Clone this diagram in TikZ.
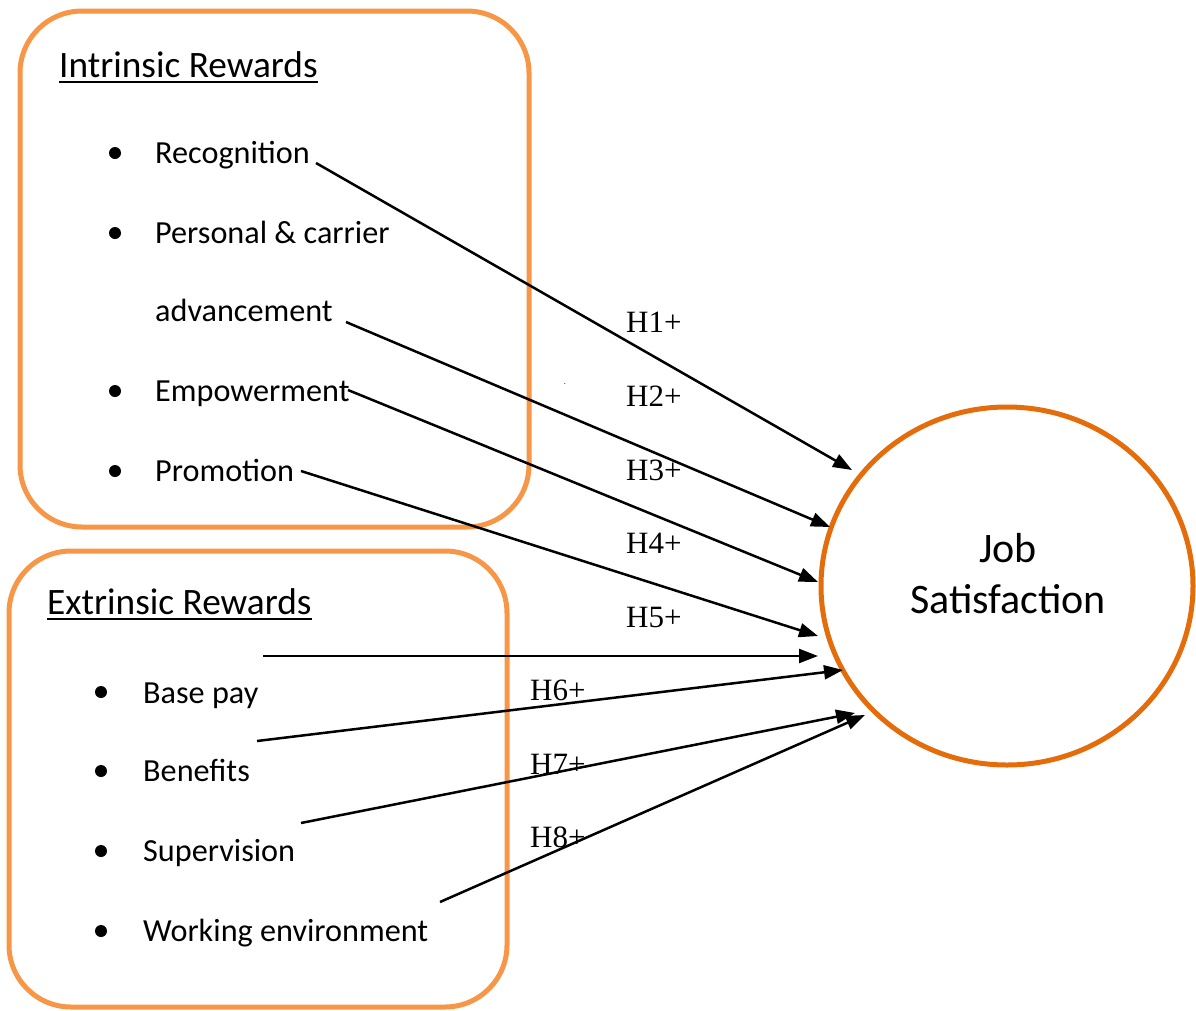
\documentclass[tikz,border=0pt]{standalone}
\usepackage{fontspec}
\setmainfont{Carlito}
\newfontfamily\hypfont{Liberation Serif}
\usetikzlibrary{arrows.meta,shapes.geometric}
\definecolor{boxorange}{HTML}{F79646}
\definecolor{ringorange}{HTML}{E46C0A}
\begin{document}
\begin{tikzpicture}[x=1pt,y=-1pt,
  frame/.style={draw=boxorange,line width=5pt,rounded corners=62pt},
  heading/.style={anchor=base west,inner sep=0pt,font=\fontsize{37.3}{44}\selectfont},
  item/.style={anchor=base west,inner sep=0pt,font=\fontsize{32.2}{38}\selectfont},
  dotmark/.style={circle,fill=black,inner sep=0pt,minimum size=12pt},
  hyp/.style={anchor=base west,inner sep=0pt,font=\hypfont\fontsize{31}{36}\selectfont},
  link/.style={draw=black,line width=2.5pt,-{Triangle[length=19pt,width=14pt]}},
  rule/.style={line width=2.5pt}]
\useasboundingbox (0,0) rectangle (1196,1010);

% group frames
\draw[frame] (20,11) rectangle (529,527);
\draw[frame] (9,551) rectangle (507,1007);

% outcome
\node[draw=ringorange,line width=5pt,ellipse,minimum width=372pt,minimum height=358pt,inner sep=0pt] (js) at (1007,586) {};
\node[align=center,inner sep=0pt,font=\fontsize{42}{51}\selectfont] (jst) at (1008,574) {Job\\Satisfaction};

% intrinsic group
\node[heading] (h1) at (59,77) {Intrinsic Rewards};
\draw[rule] ([yshift=-5pt]h1.base west) -- ([yshift=-5pt]h1.base east);
\node[dotmark] (b1) at (115,153) {};
\node[dotmark] (b2) at (115,233) {};
\node[dotmark] (b3) at (115,391) {};
\node[dotmark] (b4) at (115,471) {};
\node[item] (recog) at (155,163) {Recognition};
\node[item] (pers) at (155,243) {Personal \& carrier};
\node[item] (adv) at (155,321) {advancement};
\node[item] (emp) at (155,401) {Empowerment};
\node[item] (prom) at (155,481) {Promotion};

% extrinsic group
\node[heading] (h2) at (47,614) {Extrinsic Rewards};
\draw[rule] ([yshift=-5pt]h2.base west) -- ([yshift=-5pt]h2.base east);
\node[dotmark] (b5) at (101,692) {};
\node[dotmark] (b6) at (101,771) {};
\node[dotmark] (b7) at (101,851) {};
\node[dotmark] (b8) at (101,931) {};
\node[item] (base) at (143,703) {Base pay};
\node[item] (ben) at (143,781) {Benefits};
\node[item] (sup) at (143,861) {Supervision};
\node[item] (work) at (143,941) {Working environment};

% connector end points
\coordinate (s1) at (316,163); \coordinate (e1) at (852,470);
\coordinate (s2) at (346,322); \coordinate (e2) at (830,527);
\coordinate (s3) at (348,390); \coordinate (e3) at (818,582);
\coordinate (s4) at (301,471); \coordinate (e4) at (818,636);
\coordinate (s5) at (263,656); \coordinate (e5) at (818,656);
\coordinate (s6) at (257,741); \coordinate (e6) at (843,670);
\coordinate (s7) at (301,823); \coordinate (e7) at (855,713);
\coordinate (s8) at (440,902); \coordinate (e8) at (865,715);

\draw[link] (s1) -- (e1);
\draw[link] (s2) -- (e2);
\draw[link] (s3) -- (e3);
\draw[link] (s4) -- (e4);
\draw[link] (s5) -- (e5);
\draw[link] (s6) -- (e6);
\draw[link] (s7) -- (e7);
\draw[link] (s8) -- (e8);

% hypothesis labels
\node[hyp] (l1) at (626,332) {H1+};
\node[hyp] (l2) at (626,406) {H2+};
\node[hyp] (l3) at (626,480) {H3+};
\node[hyp] (l4) at (626,553) {H4+};
\node[hyp] (l5) at (626,627) {H5+};
\node[hyp] (l6) at (530,700) {H6+};
\node[hyp] (l7) at (530,774) {H7+};
\node[hyp] (l8) at (530,847) {H8+};

\node[inner sep=0pt,font=\fontsize{8}{8}\selectfont] (pt) at (565,384) {.};
\end{tikzpicture}
\end{document}
